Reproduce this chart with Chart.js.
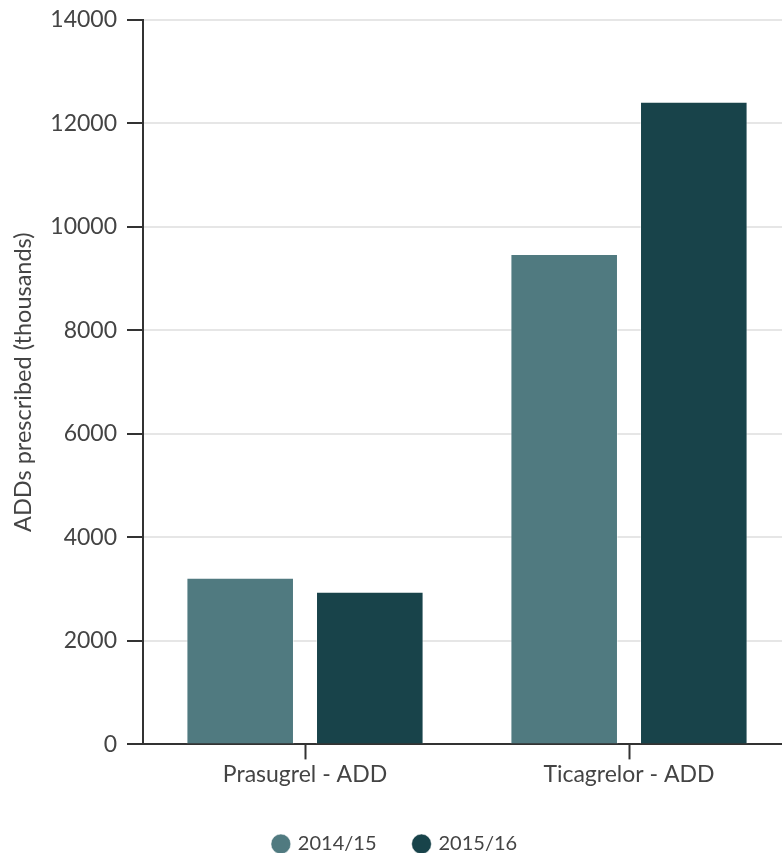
<!DOCTYPE html>
<html>
<head>
<meta charset="utf-8">
<script src="https://cdn.jsdelivr.net/npm/chart.js@4"></script>
<style>
  html, body { margin: 0; padding: 0; background: #fff; overflow: hidden; }
  #wrap { width: 792px; height: 853px; }
</style>
</head>
<body>
<div id="wrap"><canvas id="addChart"></canvas></div>
<script>
// ADDs prescribed per drug, in thousands
const categories = ["Prasugrel - ADD", "Ticagrelor - ADD"];
const years = ["2014/15", "2015/16"];
const values1415 = [3220, 9480];
const values1516 = [2950, 12420];
const yTicks = [0, 2000, 4000, 6000, 8000, 10000, 12000, 14000];

const textColor = "#444";
const axisColor = "#333";

Chart.defaults.font.family = "Lato, 'Open Sans', sans-serif";
Chart.defaults.color = textColor;

const addChart = new Chart(document.getElementById("addChart"), {
    type: "bar",
    data: {
        labels: categories,
        datasets: [{
            label: years[0],
            data: values1415,
            backgroundColor: "#507a80",
            borderColor: "rgba(255,255,255,0.5)",
            borderWidth: 1,
            barPercentage: 0.83,
            categoryPercentage: 0.8
        }, {
            label: years[1],
            data: values1516,
            backgroundColor: "#18434a",
            borderColor: "rgba(255,255,255,0.5)",
            borderWidth: 1,
            barPercentage: 0.83,
            categoryPercentage: 0.8
        }]
    },
    options: {
        responsive: true,
        maintainAspectRatio: false,
        animation: false,
        layout: { padding: { top: 0, left: 0, right: 1, bottom: -11 } },
        plugins: {
            tooltip: { enabled: false },
            legend: {
                position: "bottom",
                labels: {
                    usePointStyle: true,
                    pointStyle: "circle",
                    boxWidth: 14,
                    boxHeight: 14,
                    padding: 38,
                    color: textColor,
                    font: { size: 20 }
                }
            }
        },
        scales: {
            x: {
                afterFit: axis => { axis.height += 7; },
                grid: {
                    display: true,
                    offset: false,
                    drawOnChartArea: false,
                    tickLength: 15,
                    tickWidth: 2,
                    tickColor: axisColor
                },
                border: { color: axisColor, width: 2 },
                ticks: { color: textColor, font: { size: 23 }, padding: 1 }
            },
            y: {
                min: 0,
                max: 14000,
                afterBuildTicks: axis => { axis.ticks = yTicks.map(v => ({ value: v })); },
                afterFit: axis => {
                    axis.width = 143;
                    axis.paddingTop = 20;
                },
                grid: {
                    color: "#e6e6e6",
                    lineWidth: 2,
                    tickLength: 16,
                    tickWidth: 2,
                    tickColor: axisColor
                },
                border: { color: axisColor, width: 2 },
                ticks: {
                    color: textColor,
                    font: { size: 23 },
                    padding: 10,
                    callback: v => String(v)
                },
                title: {
                    display: true,
                    text: "ADDs prescribed (thousands)",
                    color: textColor,
                    font: { size: 23.5 },
                    padding: { top: 9, bottom: 8 }
                }
            }
        }
    }
});
</script>
</body>
</html>
